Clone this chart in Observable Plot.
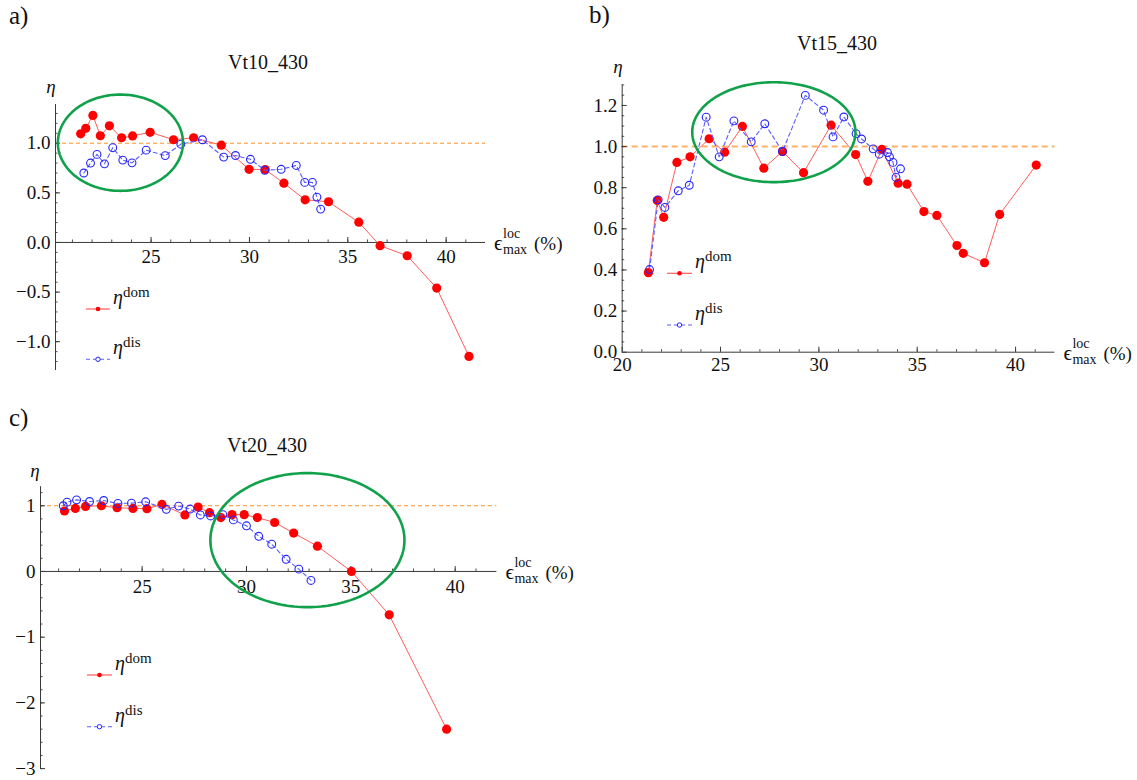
<!DOCTYPE html>
<html>
<head>
<meta charset="utf-8">
<script src="https://cdn.jsdelivr.net/npm/d3@7"></script>
<script src="https://cdn.jsdelivr.net/npm/@observablehq/plot@0.6"></script>
<style>
  html, body { margin: 0; padding: 0; background: #fff; }
  #root { position: relative; width: 1137px; height: 780px; overflow: hidden;
          font-family: 'Liberation Serif', serif; }
  .panel { position: absolute; }
  #overlay { position: absolute; left: 0; top: 0; pointer-events: none; }
</style>
</head>
<body>
<div id="root"></div>
<script>
// ---------------- DATA ----------------
// Panel a) Vt10_430
const aTitle = "Vt10_430";
const aDomX = [21.42, 21.68, 22.04, 22.42, 22.88, 23.50, 24.06, 24.95, 26.14, 27.16, 28.57, 29.98, 30.80, 31.75, 32.83, 34.02, 35.56, 36.64, 38.02, 39.52, 41.16];
const aDomY = [1.095, 1.15, 1.28, 1.075, 1.175, 1.055, 1.073, 1.11, 1.035, 1.055, 0.98, 0.737, 0.735, 0.597, 0.43, 0.41, 0.204, -0.032, -0.134, -0.46, -1.148];
const aDisX = [21.58, 21.92, 22.25, 22.63, 23.05, 23.56, 24.03, 24.75, 25.72, 26.51, 27.61, 28.69, 29.29, 30.05, 30.78, 31.61, 32.38, 32.81, 33.20, 33.43, 33.62];
const aDisY = [0.70, 0.80, 0.887, 0.792, 0.955, 0.83, 0.802, 0.93, 0.875, 0.99, 1.035, 0.86, 0.876, 0.838, 0.727, 0.737, 0.776, 0.605, 0.605, 0.457, 0.336];
const aXMajor = [25, 30, 35, 40];
const aYMajor = [-1.0, -0.5, 0.0, 0.5, 1.0];

// Panel b) Vt15_430
const bTitle = "Vt15_430";
const bDomX = [21.33, 21.78, 22.11, 22.78, 23.45, 24.42, 25.21, 26.11, 27.20, 28.15, 29.22, 30.62, 31.87, 32.49, 33.20, 34.03, 34.48, 35.34, 36.00, 37.02, 37.34, 38.42, 39.19, 41.05];
const bDomY = [0.387, 0.738, 0.656, 0.923, 0.950, 1.038, 0.973, 1.098, 0.895, 0.976, 0.873, 1.104, 0.961, 0.831, 0.986, 0.822, 0.817, 0.684, 0.665, 0.519, 0.481, 0.435, 0.670, 0.910];
const bDisX = [21.39, 21.83, 22.17, 22.85, 23.41, 24.27, 24.93, 25.68, 26.56, 27.25, 28.15, 29.31, 30.24, 30.72, 31.27, 31.89, 32.17, 32.76, 33.07, 33.49, 33.59, 33.77, 33.92, 34.15];
const bDisY = [0.402, 0.741, 0.704, 0.785, 0.812, 1.143, 0.950, 1.125, 1.023, 1.111, 0.976, 1.249, 1.177, 1.047, 1.144, 1.063, 1.037, 0.989, 0.963, 0.971, 0.950, 0.923, 0.850, 0.892];
const bXMajor = [20, 25, 30, 35, 40];
const bYMajor = [0.0, 0.2, 0.4, 0.6, 0.8, 1.0, 1.2];

// Panel c) Vt20_430
const cTitle = "Vt20_430";
const cDomX = [21.28, 21.80, 22.29, 23.05, 23.80, 24.56, 25.23, 25.95, 27.05, 27.68, 28.23, 28.77, 29.31, 29.89, 30.52, 31.35, 32.26, 33.40, 35.03, 36.84, 39.59];
const cDomY = [0.92, 0.96, 0.99, 1.00, 0.97, 0.96, 0.955, 1.02, 0.86, 0.98, 0.895, 0.82, 0.865, 0.865, 0.82, 0.745, 0.585, 0.385, 0.00, -0.66, -2.40];
const cDisX = [21.22, 21.40, 21.86, 22.48, 23.16, 23.84, 24.49, 25.17, 26.16, 26.75, 27.30, 27.79, 28.28, 28.87, 29.37, 30.00, 30.59, 31.21, 31.90, 32.51, 33.09];
const cDisY = [1.00, 1.055, 1.09, 1.065, 1.08, 1.035, 1.04, 1.06, 0.945, 0.995, 0.95, 0.86, 0.845, 0.865, 0.785, 0.695, 0.535, 0.415, 0.185, 0.035, -0.137];
const cXMajor = [25, 30, 35, 40];
const cYMajor = [-3, -2, -1, 0, 1];

// Highlight ellipses (annotation): [centerX, centerY, radiusX, radiusY] in data units
const aEllipse = [23.44, 1.005, 3.18, 0.485];
const bEllipse = [27.71, 1.07, 4.15, 0.243];
const cEllipse = [32.92, 0.477, 4.65, 1.02];

const legendLabels = ["dom", "dis"];
const xLabelParts = ["\u03F5", "loc", "max", "(%)"];

// ---------------- STYLE ----------------
const FONT = "Liberation Serif";
const AXIS = "#3a3a3a";
const RED = "#ff0000", RED_LINE = "#ff5c5c";
const BLUE = "#2424ff", BLUE_LINE = "#5c5cff";
const GREEN = "#12a14b";

const fmt1 = d3.format(".1f");
const fmt0 = d3.format("d");

const panels = [
  { left: 0, top: 0, width: 540, height: 380, ml: 55, mr: 55, mt: 104, mb: 10,
    xDomain: [20.14, 42], yDomain: [-1.29, 1.39],
    xMajor: aXMajor, xMinor: d3.range(21, 42), yMajor: aYMajor, yMinor: d3.range(-12, 14).map(v => v / 10),
    yFmt: fmt1, xLabelDy: 14,
    domX: aDomX, domY: aDomY, disX: aDisX, disY: aDisY, ellipse: aEllipse,
    ref: { stroke: "#ff9226", width: 1, dash: "4,3" } },
  { left: 560, top: 0, width: 577, height: 400, ml: 61.7, mr: 82.6, mt: 84.4, mb: 48.3,
    xDomain: [20, 42], yDomain: [0, 1.3],
    xMajor: bXMajor, xMinor: d3.range(21, 42), yMajor: bYMajor, yMinor: d3.range(1, 27).map(v => v / 20),
    yFmt: fmt1, xLabelDy: 13,
    domX: bDomX, domY: bDomY, disX: bDisX, disY: bDisY, ellipse: bEllipse,
    ref: { stroke: "#ffb266", width: 2, dash: "6,4" } },
  { left: 0, top: 380, width: 540, height: 400, ml: 40, mr: 43.6, mt: 106.2, mb: 11.9,
    xDomain: [20.13, 42], yDomain: [-3, 1.29],
    xMajor: cXMajor, xMinor: d3.range(21, 42), yMajor: cYMajor, yMinor: d3.range(-15, 7).map(v => v / 5),
    yFmt: fmt0, xLabelDy: 15,
    domX: cDomX, domY: cDomY, disX: cDisX, disY: cDisY, ellipse: cEllipse,
    ref: { stroke: "#ff9226", width: 1, dash: "4,3" } }
];

function panelPlot(p) {
  const [x0, x1] = p.xDomain, [y0, y1] = p.yDomain;
  const kx = (p.width - p.ml - p.mr) / (x1 - x0);
  const ky = (p.height - p.mt - p.mb) / (y1 - y0);
  const dom = p.domX.map((x, i) => ({ x, y: p.domY[i] }));
  const dis = p.disX.map((x, i) => ({ x, y: p.disY[i] }));
  const [cx, cy, rx, ry] = p.ellipse;
  const ell = d3.range(0, 361, 2).map(a => ({
    x: cx + rx * Math.cos(a * Math.PI / 180),
    y: cy + ry * Math.sin(a * Math.PI / 180)
  }));
  return Plot.plot({
    width: p.width, height: p.height,
    marginLeft: p.ml, marginRight: p.mr, marginTop: p.mt, marginBottom: p.mb,
    x: { domain: p.xDomain, axis: null },
    y: { domain: p.yDomain, axis: null },
    style: { background: "transparent", fontFamily: FONT, overflow: "visible", color: "#111" },
    marks: [
      Plot.ruleY([1], { x1: x0, x2: x1, stroke: p.ref.stroke, strokeWidth: p.ref.width, strokeDasharray: p.ref.dash }),
      Plot.ruleY([0], { x1: x0, x2: x1, stroke: AXIS, strokeWidth: 1 }),
      Plot.ruleX([x0], { y1: y0, y2: y1, stroke: AXIS, strokeWidth: 1 }),
      Plot.ruleX(p.xMinor, { x: d => d, y1: 0, y2: 2.5 / ky, stroke: AXIS, strokeWidth: 0.9 }),
      Plot.ruleX(p.xMajor, { x: d => d, y1: 0, y2: 5 / ky, stroke: AXIS, strokeWidth: 1 }),
      Plot.ruleY(p.yMinor, { y: d => d, x1: x0, x2: x0 + 2.5 / kx, stroke: AXIS, strokeWidth: 0.9 }),
      Plot.ruleY(p.yMajor, { y: d => d, x1: x0, x2: x0 + 5 / kx, stroke: AXIS, strokeWidth: 1 }),
      Plot.text(p.xMajor, { x: d => d, y: 0, dy: p.xLabelDy, text: d => fmt0(d), fontSize: 19, fontFamily: FONT, fill: "#111" }),
      Plot.text(p.yMajor, { x: x0, y: d => d, dx: -5, textAnchor: "end", text: d => p.yFmt(d), fontSize: 19, fontFamily: FONT, fill: "#111" }),
      Plot.line(dom, { x: "x", y: "y", stroke: RED_LINE, strokeWidth: 1 }),
      Plot.dot(dom, { x: "x", y: "y", r: 4.6, fill: RED, stroke: "none" }),
      Plot.line(dis, { x: "x", y: "y", stroke: BLUE_LINE, strokeWidth: 1.1, strokeDasharray: "4,3" }),
      Plot.dot(dis, { x: "x", y: "y", r: 3.9, fill: "none", stroke: BLUE, strokeWidth: 1.1 }),
      Plot.line(ell, { x: "x", y: "y", stroke: GREEN, strokeWidth: 2.6, curve: "linear" })
    ]
  });
}

const root = document.getElementById("root");
panels.forEach(p => {
  const div = document.createElement("div");
  div.className = "panel";
  div.style.left = p.left + "px";
  div.style.top = p.top + "px";
  div.appendChild(panelPlot(p));
  root.appendChild(div);
});

// ---------------- OVERLAY TEXT (titles, labels, legends) ----------------
const NS = "http://www.w3.org/2000/svg";
const ov = document.createElementNS(NS, "svg");
ov.setAttribute("id", "overlay");
ov.setAttribute("width", 1137);
ov.setAttribute("height", 780);
root.appendChild(ov);

function txt(x, y, s, size, opts = {}) {
  const t = document.createElementNS(NS, "text");
  t.setAttribute("x", x); t.setAttribute("y", y);
  t.setAttribute("font-size", size);
  t.setAttribute("font-family", FONT);
  t.setAttribute("fill", opts.fill || "#111");
  if (opts.anchor) t.setAttribute("text-anchor", opts.anchor);
  if (opts.italic) t.setAttribute("font-style", "italic");
  t.textContent = s;
  ov.appendChild(t);
}
function el(name, attrs) {
  const e = document.createElementNS(NS, name);
  for (const k in attrs) e.setAttribute(k, attrs[k]);
  ov.appendChild(e);
}

// Panel letters
txt(9, 24, "a)", 25);
txt(589, 23, "b)", 25);
txt(9, 426, "c)", 25);

// Titles
txt(268, 69, aTitle, 20, { anchor: "middle" });
txt(837, 50, bTitle, 20, { anchor: "middle" });
txt(267, 452, cTitle, 20, { anchor: "middle" });

// Eta axis labels
txt(51, 93, "\u03B7", 19, { anchor: "middle", italic: true });
txt(618, 73, "\u03B7", 19, { anchor: "middle", italic: true });
txt(35, 477, "\u03B7", 19, { anchor: "middle", italic: true });

// x-axis labels: epsilon^loc_max (%)
function xLabel(xEnd, yAxis) {
  const ex = xEnd + 9;
  txt(ex, yAxis + 8, xLabelParts[0], 21);
  txt(ex + 9, yAxis - 4, xLabelParts[1], 14);
  txt(ex + 9, yAxis + 12, xLabelParts[2], 14);
  txt(ex + 40, yAxis + 8, xLabelParts[3], 19);
}
xLabel(485, 242);
xLabel(1054.4, 351.7);
xLabel(496.4, 571);

// Legends
function legend(x1, x2, yDom, yDis) {
  const xm = (x1 + x2) / 2;
  el("line", { x1, x2, y1: yDom, y2: yDom, stroke: RED_LINE, "stroke-width": 1.2 });
  el("circle", { cx: xm, cy: yDom, r: 2.3, fill: RED });
  txt(x2 + 3, yDom - 5, "\u03B7", 20, { italic: true });
  txt(x2 + 13, yDom - 12, legendLabels[0], 15);
  el("line", { x1, x2, y1: yDis, y2: yDis, stroke: BLUE_LINE, "stroke-width": 1.1, "stroke-dasharray": "4,3" });
  el("circle", { cx: xm, cy: yDis, r: 2.2, fill: "#fff", stroke: BLUE, "stroke-width": 1 });
  txt(x2 + 3, yDis - 5, "\u03B7", 20, { italic: true });
  txt(x2 + 13, yDis - 12, legendLabels[1], 15);
}
legend(86, 110, 309, 359.3);
legend(667, 692, 273.3, 325);
legend(87, 112, 675, 726.7);
</script>
</body>
</html>
